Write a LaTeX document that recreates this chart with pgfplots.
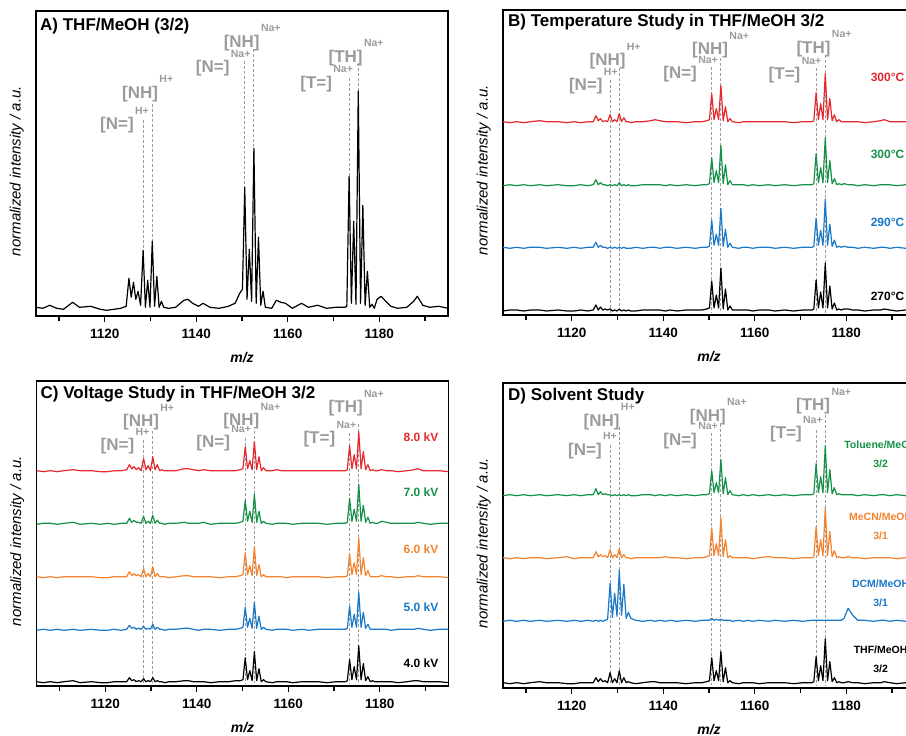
\documentclass[border=0pt]{standalone}
\usepackage{fontspec}
\setmainfont{Liberation Sans}
\usepackage{pgfplots}
\usepackage{pgfplotstable}
\pgfplotsset{compat=1.18}

\definecolor{sred}{RGB}{230,40,45}
\definecolor{sgreen}{RGB}{20,145,70}
\definecolor{sblue}{RGB}{25,120,200}
\definecolor{sorange}{RGB}{245,130,45}
\definecolor{lgray}{RGB}{155,155,155}

% heights above each baseline, in px of the 906x736 image
\pgfplotstableread{
x A Br Bg Bb Bk Cr Cg Co Cb Ck Dg Do Db Dk
1105.0 2 1 0 1 0 1 0 1 0 1 0 1 0 1
1106.5 1 0 1 0 1 0 1 0 1 0 1 0 1 0
1108.0 4 1 0 1 1 1 1 1 0 1 0 1 0 1
1109.5 1 0 1 0 0 0 0 0 1 0 1 0 1 0
1111.0 0 1 0 1 1 1 1 1 0 1 0 1 0 1
1113.0 7 2 1 1 1 2 2 1 1 2 1 1 1 2
1114.5 2 1 0 0 0 1 0 1 0 0 0 0 0 1
1117.0 3 1 1 1 1 1 1 1 1 1 1 1 1 1
1119.0 0 0 0 0 0 0 0 0 0 0 0 2 0 0
1120.5 -1 1 0 1 0 0 1 0 0 0 1 0 1 0
1122.0 0 0 1 0 1 1 0 1 1 1 0 1 0 1
1123.5 1 1 0 1 0 1 1 1 0 1 1 1 1 1
1124.7 3 1 1 1 1 2 1 1 1 1 1 1 0 1
1125.3 31 7 6 6 6 7 6 6 5 5 7 7 1 6
1125.8 12 2 1 1 1 3 2 2 2 2 1 2 0 2
1126.3 27 4 3 3 4 5 4 4 3 3 4 4 1 5
1126.8 10 1 1 1 1 2 2 2 1 1 1 2 0 2
1127.3 18 2 1 1 2 4 2 3 2 2 2 3 1 3
1127.85 4 1 0 0 1 1 1 1 1 1 1 1 2 1
1128.4 59 8 1 1 2 13 8 9 4 4 1 9 38 11
1128.9 2 1 0 0 0 2 1 1 1 1 0 1 4 1
1129.4 29 3 1 1 1 6 3 4 2 2 1 4 28 5
1129.9 2 1 0 0 0 1 1 1 1 1 0 1 5 1
1130.4 68 9 3 1 2 15 9 11 6 5 1 10 51 13
1130.9 3 1 0 0 0 2 1 1 1 1 0 1 6 1
1131.4 33 5 1 1 1 7 4 4 3 2 1 4 37 6
1131.9 2 1 0 0 0 1 1 1 1 1 0 1 3 1
1132.4 8 1 1 0 1 2 1 1 1 1 1 1 9 2
1132.9 2 0 0 0 0 1 0 1 0 0 0 0 3 1
1134.0 1 1 0 1 0 1 1 0 1 1 0 1 1 0
1135.5 2 1 1 0 1 1 1 1 1 1 1 1 0 1
1137.3 9 2 1 1 1 3 2 2 2 2 1 1 1 2
1138.2 10 3 1 1 1 3 1 2 2 2 0 1 0 2
1139.2 6 2 1 0 1 2 1 1 1 1 1 1 1 1
1140.5 3 1 0 1 0 1 1 1 0 1 0 2 0 1
1141.5 6 1 1 1 1 2 2 1 1 1 1 1 1 1
1143.0 2 1 0 0 0 1 0 1 1 0 0 1 0 1
1145.0 1 0 1 1 1 1 1 0 0 1 1 0 1 0
1147.0 3 1 0 0 1 1 1 1 1 1 0 1 0 1
1148.5 6 1 1 1 1 1 1 1 1 2 1 1 1 1
1149.5 16 2 1 1 2 2 2 2 2 2 1 2 1 2
1150.1 20 3 2 2 3 3 3 3 3 3 2 3 1 3
1150.6 122 29 28 28 30 25 24 25 23 25 25 31 3 26
1151.1 10 3 3 3 3 3 3 3 3 3 3 3 1 3
1151.6 60 14 15 14 16 11 13 12 12 12 13 15 2 13
1152.1 8 3 3 3 3 2 2 2 2 2 3 3 1 3
1152.6 161 37 40 40 43 30 30 31 28 31 36 41 2 32
1153.1 6 2 2 2 2 2 2 2 2 2 2 2 1 2
1153.6 72 16 21 19 22 15 13 13 14 14 18 19 1 16
1154.1 4 1 1 1 1 1 1 1 1 1 1 1 1 1
1154.6 18 4 5 5 5 4 3 3 3 3 5 3 1 3
1155.1 2 1 1 1 1 1 1 1 1 1 1 1 0 1
1156.5 1 0 1 0 1 1 0 1 0 0 0 1 1 0
1157.5 9 1 1 1 1 2 1 1 1 1 1 1 0 1
1158.5 7 1 0 1 1 1 1 1 1 1 0 1 1 1
1159.5 6 1 1 0 0 1 1 0 1 1 1 0 0 1
1161.0 1 1 0 1 1 1 0 1 0 0 0 1 1 0
1163.0 6 1 1 1 1 1 1 1 1 1 1 2 0 1
1164.5 2 1 0 0 0 1 1 1 0 1 0 1 1 1
1166.5 4 1 1 1 1 1 1 1 1 1 1 1 0 1
1168.5 1 0 0 0 0 1 0 0 1 0 0 0 1 0
1170.5 2 1 1 1 1 1 1 1 1 1 1 1 0 1
1172.5 2 1 1 1 1 1 1 1 1 1 1 1 1 1
1172.9 3 2 2 2 2 2 2 2 2 2 2 2 1 2
1173.4 133 30 32 30 31 26 26 24 24 23 32 32 1 27
1173.9 6 3 3 3 3 3 3 3 3 3 3 3 1 3
1174.4 88 19 18 18 19 17 15 15 16 16 19 19 1 18
1174.9 5 3 3 3 3 3 3 3 3 3 3 3 1 3
1175.4 218 49 48 49 48 40 40 40 38 37 50 51 1 45
1175.9 6 3 3 3 3 3 3 3 3 3 3 3 1 3
1176.4 104 24 25 24 25 20 19 20 18 19 26 27 1 22
1176.9 4 2 2 2 2 2 2 2 2 2 2 2 1 2
1177.4 38 8 7 8 8 7 7 7 6 6 8 8 1 6
1177.9 2 1 1 1 1 1 1 1 1 1 1 1 1 1
1178.4 5 3 2 2 2 2 2 1 1 2 2 2 1 2
1178.9 1 1 1 1 1 1 1 1 1 1 1 1 1 1
1179.5 10 1 2 2 2 1 1 1 1 1 1 1 3 1
1180.4 13 1 1 1 2 2 3 2 1 1 1 2 13 2
1181.4 8 1 1 1 1 1 2 1 1 1 1 1 6 1
1182.5 3 1 0 0 1 1 1 1 0 1 0 1 1 1
1184.0 1 0 1 1 0 0 1 0 1 0 1 0 1 0
1186.0 2 1 0 0 1 1 1 1 1 1 0 1 0 1
1187.5 8 2 1 1 1 2 1 1 1 2 1 1 1 1
1188.3 13 3 1 1 2 3 2 2 2 2 1 1 1 2
1189.5 4 1 1 0 1 1 1 1 1 1 0 1 0 1
1191.0 2 1 0 1 0 1 0 1 0 1 1 0 1 0
1193.0 3 1 1 0 1 1 1 1 1 1 0 1 0 1
1195.0 1 0 0 1 0 0 1 0 1 0 1 0 1 0
}\spec

\pgfplotsset{
  msaxis/.style={
    scale only axis, width=412pt, height=305pt,
    xmin=1105, xmax=1195, ymin=0, ymax=305,
    xtick={1120,1140,1160,1180}, xticklabels={1120,1140,1160,1180},
    minor xtick={1110,1130,1150,1170,1190},
    ytick=\empty, tick pos=left, tick align=outside,
    major tick length=6pt, minor tick length=5pt,
    every tick/.style={black, line width=1.3pt},
    axis line style={line width=1.7pt},
    xticklabel style={font=\bfseries\fontsize{13.5}{14}\selectfont, yshift=-4pt},
    xlabel={\bfseries\itshape m/z},
    xlabel style={font=\fontsize{14}{15}\selectfont, at={(axis description cs:0.5,0)}, anchor=center, yshift=-42pt},
    ylabel={\itshape normalized intensity / a.u.},
    ylabel style={font=\fontsize{15}{16}\selectfont, at={(axis description cs:-0.047,0.475)}, anchor=center},
  },
  spec/.style={line width=1.2pt, line join=round},
  dline/.style={lgray, line width=0.9pt, dash pattern=on 3pt off 2pt, forget plot},
}
\tikzset{
  lm/.style={anchor=base east, inner sep=0, text=lgray, font=\bfseries\fontsize{17}{17}\selectfont},
  ls/.style={anchor=base west, inner sep=0, xshift=1pt, yshift=15.5pt, text=lgray, font=\bfseries\fontsize{10.5}{10.5}\selectfont},
  ttl/.style={anchor=base west, inner sep=0, font=\bfseries\fontsize{17}{18}\selectfont},
  rl/.style={anchor=center, inner sep=0, font=\bfseries\fontsize{12}{12}\selectfont},
  rl2/.style={anchor=center, inner sep=0, align=center, font=\bfseries\fontsize{10.5}{18.7}\selectfont},
}

% peak label: right end of main text at (x,y)
\newcommand{\pk}[4]{\node[lm] at (axis cs:#1,#2) {#3}; \node[ls] at (axis cs:#1,#2) {#4};}
\newcommand{\dl}[3]{\addplot[dline] coordinates {(#1,#2) (#1,#3)};}

\begin{document}
\begin{tikzpicture}
\useasboundingbox (0,0) rectangle (906pt,736pt);
\clip (0,0) rectangle (906pt,736pt);

% A
\begin{axis}[msaxis, at={(36pt,420pt)}, anchor=south west]
\dl{1128.4}{196}{65.7}
\dl{1130.4}{212}{74.7}
\dl{1150.6}{255.3}{128.7}
\dl{1152.6}{266.7}{167.7}
\dl{1173.4}{237.7}{139.7}
\dl{1175.4}{252.7}{224.7}
\addplot[spec, black] table[x=x, y expr=\thisrow{A}+6.7] {\spec};
\pk{1126.4}{186}{[N=]}{H+}
\pk{1131.7}{217.7}{[NH]}{H+}
\pk{1147.3}{243.3}{[N=]}{Na+}
\pk{1153.9}{268.7}{[NH]}{Na+}
\pk{1169.7}{227.7}{[T=]}{Na+}
\pk{1176.4}{253.7}{[TH]}{Na+}
\node[ttl] at (rel axis cs:0,1) [xshift=4pt, yshift=-19.5pt] {A) THF/MeOH (3/2)};
\end{axis}

% B
\begin{axis}[msaxis, at={(503pt,421pt)}, anchor=south west]
\dl{1128.4}{235}{2}
\dl{1130.4}{246.7}{2}
\dl{1150.6}{248.3}{2}
\dl{1152.6}{256.7}{2}
\dl{1173.4}{246.7}{2}
\dl{1175.4}{260}{2}
\addplot[spec, sred] table[x=x, y expr=\thisrow{Br}+192.3] {\spec};
\addplot[spec, sgreen] table[x=x, y expr=\thisrow{Bg}+129.3] {\spec};
\addplot[spec, sblue] table[x=x, y expr=\thisrow{Bb}+66.7] {\spec};
\addplot[spec, black] table[x=x, y expr=\thisrow{Bk}+4] {\spec};
\pk{1126.8}{224.3}{[N=]}{H+}
\pk{1131.8}{249}{[NH]}{H+}
\pk{1147.4}{236}{[N=]}{Na+}
\pk{1154.2}{260}{[NH]}{Na+}
\pk{1170.0}{235}{[T=]}{Na+}
\pk{1176.6}{261.7}{[TH]}{Na+}
\node[rl, text=sred] at (axis cs:1189,237.7) {300°C};
\node[rl, text=sgreen] at (axis cs:1189,161) {300°C};
\node[rl, text=sblue] at (axis cs:1189,92.3) {290°C};
\node[rl, text=black] at (axis cs:1189,19) {270°C};
\node[ttl] at (rel axis cs:0,1) [xshift=5pt, yshift=-16.6pt] {B) Temperature Study in THF/MeOH 3/2};
\end{axis}

% C
\begin{axis}[msaxis, at={(36.5pt,50pt)}, anchor=south west]
\dl{1128.4}{245.7}{3}
\dl{1130.4}{255}{3}
\dl{1150.6}{248.3}{3}
\dl{1152.6}{255}{3}
\dl{1173.4}{253.3}{3}
\dl{1175.4}{261.6}{3}
\addplot[spec, sred] table[x=x, y expr=\thisrow{Cr}+214.3] {\spec};
\addplot[spec, sgreen] table[x=x, y expr=\thisrow{Cg}+161.7] {\spec};
\addplot[spec, sorange] table[x=x, y expr=\thisrow{Co}+108.3] {\spec};
\addplot[spec, sblue] table[x=x, y expr=\thisrow{Cb}+55.7] {\spec};
\addplot[spec, black] table[x=x, y expr=\thisrow{Ck}+3.3] {\spec};
\pk{1126.4}{235}{[N=]}{H+}
\pk{1131.8}{259}{[NH]}{H+}
\pk{1147.3}{238.3}{[N=]}{Na+}
\pk{1153.7}{260}{[NH]}{Na+}
\pk{1170.3}{242.3}{[T=]}{Na+}
\pk{1176.3}{273.3}{[TH]}{Na+}
\node[rl, text=sred] at (axis cs:1189,249) {8.0 kV};
\node[rl, text=sgreen] at (axis cs:1189,194) {7.0 kV};
\node[rl, text=sorange] at (axis cs:1189,136.7) {6.0 kV};
\node[rl, text=sblue] at (axis cs:1189,78.3) {5.0 kV};
\node[rl, text=black] at (axis cs:1189,22.7) {4.0 kV};
\node[ttl] at (rel axis cs:0,1) [xshift=4pt, yshift=-17.7pt] {C) Voltage Study in THF/MeOH 3/2};
\end{axis}

% D
\begin{axis}[msaxis, at={(503pt,48pt)}, anchor=south west]
\dl{1128.4}{242.7}{3}
\dl{1130.4}{260.7}{3}
\dl{1150.6}{255}{3}
\dl{1152.6}{264}{3}
\dl{1173.4}{258.3}{3}
\dl{1175.4}{273.3}{3}
\addplot[spec, sgreen] table[x=x, y expr=\thisrow{Dg}+192.3] {\spec};
\addplot[spec, sorange] table[x=x, y expr=\thisrow{Do}+129.3] {\spec};
\addplot[spec, sblue] table[x=x, y expr=\thisrow{Db}+66.7] {\spec};
\addplot[spec, black] table[x=x, y expr=\thisrow{Dk}+4.3] {\spec};
\pk{1126.6}{232.7}{[N=]}{H+}
\pk{1130.5}{261.7}{[NH]}{H+}
\pk{1147.4}{242.7}{[N=]}{Na+}
\pk{1153.7}{266.7}{[NH]}{Na+}
\pk{1170.3}{249}{[T=]}{Na+}
\pk{1176.5}{277.3}{[TH]}{Na+}
\node[rl2, text=sgreen] at (axis cs:1187.5,233.4) {Toluene/MeOH\\3/2};
\node[rl2, text=sorange] at (axis cs:1187.5,161.7) {MeCN/MeOH\\3/1};
\node[rl2, text=sblue] at (axis cs:1187.5,94.5) {DCM/MeOH\\3/1};
\node[rl2, text=black] at (axis cs:1187.5,28.8) {THF/MeOH\\3/2};
\node[ttl] at (rel axis cs:0,1) [xshift=5pt, yshift=-17.7pt] {D) Solvent Study};
\end{axis}
\end{tikzpicture}
\end{document}
